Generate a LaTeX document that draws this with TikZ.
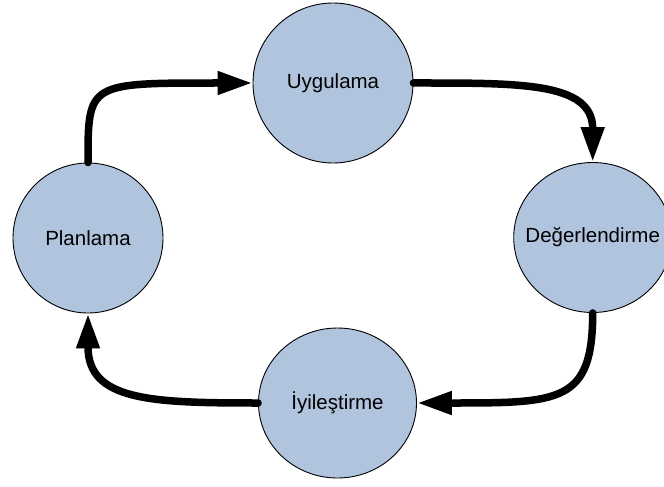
\documentclass[tikz,border=0pt]{standalone}
\usepackage{fontspec}
\setmainfont{Liberation Sans}
\usetikzlibrary{shapes.geometric,arrows.meta}
\definecolor{nodefill}{RGB}{176,196,222}
\begin{document}
\begin{tikzpicture}[x=1pt,y=-1pt,
  stage/.style={ellipse,draw=black,line width=0.9pt,fill=nodefill,inner sep=0pt},
  stagetext/.style={font=\fontsize{20.5}{24}\selectfont,inner sep=0pt},
  conn/.style={line width=7.5pt,line cap=round,-{Triangle[length=35pt,width=22pt]}}]
\useasboundingbox (0,0) rectangle (664,487);
\node[stage,minimum width=160pt,minimum height=160pt,
  label={[stagetext,name=Ut]center:Uygulama}] (U) at (333,83) {};
\node[stage,minimum width=150pt,minimum height=150pt,
  label={[stagetext,name=Pt]center:Planlama}] (P) at (88,238) {};
\node[stage,minimum width=158pt,minimum height=150pt,
  label={[stagetext,name=Dt]center:Değerlendirme}] (D) at (592.7,237.5) {};
\node[stage,minimum width=158pt,minimum height=150pt,
  label={[stagetext,name=It]center:İyileştirme}] (I) at (337.5,403) {};
\draw[conn] (P.north) .. controls +(0,-80) and +(-165,0) .. (U.west);
\draw[conn] (U.east) .. controls +(107,0) and +(0,-80) .. (D.north);
\draw[conn] (D.south) .. controls +(0,90) and +(143,0) .. (I.east);
\draw[conn] (I.west) .. controls +(-108,0) and +(0,87) .. (P.south);
\end{tikzpicture}
\end{document}
